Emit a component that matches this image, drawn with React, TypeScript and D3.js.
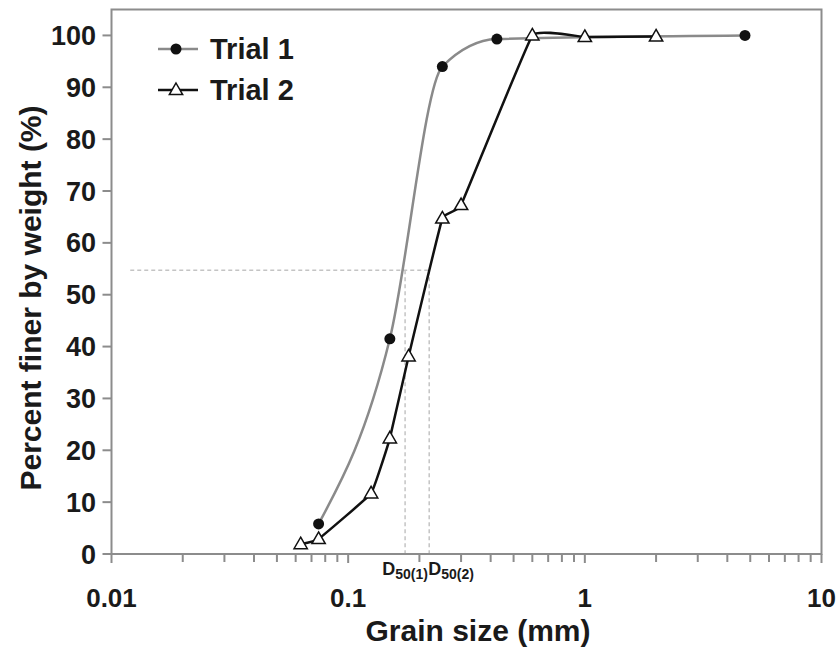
import React from "react";
import * as d3 from "d3";

// Grain size distribution, two sieve trials
const trial1Size = [0.075, 0.15, 0.25, 0.425, 4.75];
const trial1Finer = [5.8, 41.5, 94.0, 99.3, 100];

const trial2Size = [0.063, 0.075, 0.125, 0.15, 0.18, 0.25, 0.3, 0.6, 1.0, 2.0];
const trial2Finer = [1.9, 2.9, 11.7, 22.3, 38.1, 64.7, 67.3, 100, 99.7, 99.8];

const xTicks = [0.01, 0.1, 1, 10];
const xTickLabels = ["0.01", "0.1", "1", "10"];
const yTicks = [0, 10, 20, 30, 40, 50, 60, 70, 80, 90, 100];

// D50 guide lines
const d50Level = 54.7;
const d50Sizes = [0.174, 0.22];
const d50Labels = ["50(1)", "50(2)"];
const guideStart = 0.012;

const seriesNames = ["Trial 1", "Trial 2"];

const W = 840;
const H = 648;
const FONT = "'Liberation Sans', Arial, Helvetica, sans-serif";
const AXIS = "#8c8c8c";
const INK = "#1a1a1a";

export default function App() {
  const x = d3.scaleLog().domain([0.01, 10]).range([111.5, 821.5]);
  const y = d3.scaleLinear().domain([0, 105]).range([554, 9.5]);

  const t1 = trial1Size.map((s, i) => [x(s), y(trial1Finer[i])] as [number, number]);
  const t2 = trial2Size.map((s, i) => [x(s), y(trial2Finer[i])] as [number, number]);

  const line1 = d3.line().curve(d3.curveMonotoneX);
  const line2 = d3.line().curve(d3.curveCardinal.tension(0.75));

  const minor: number[] = [];
  for (let dec = 0.01; dec < 10; dec *= 10) {
    for (let k = 2; k <= 9; k++) minor.push(dec * k);
  }

  const tri = (cx: number, cy: number, s = 7) =>
    `M${cx},${cy - s} L${cx + s * 0.95},${cy + s * 0.65} L${cx - s * 0.95},${cy + s * 0.65} Z`;

  const [x0, x1] = x.range();
  const [yb, yt] = y.range();

  return (
    <svg
      width={W}
      height={H}
      style={{ position: "absolute", left: 0, top: 0, background: "#fff" }}
      fontFamily={FONT}
    >
      {/* D50 guide lines */}
      <g stroke="#c4c4c4" strokeWidth={1.5} strokeDasharray="4,3" fill="none">
        <line x1={x(guideStart)} x2={x(d50Sizes[1])} y1={y(d50Level)} y2={y(d50Level)} />
        {d50Sizes.map((s, i) => (
          <line key={i} x1={x(s)} x2={x(s)} y1={y(d50Level)} y2={yb} />
        ))}
      </g>

      {/* frame */}
      <rect x={x0} y={yt} width={x1 - x0} height={yb - yt} fill="none" stroke={AXIS} strokeWidth={2} />

      {/* ticks */}
      <g stroke={AXIS} strokeWidth={2}>
        {minor.map((v, i) => (
          <line key={i} x1={x(v)} x2={x(v)} y1={yb} y2={yb + 8} />
        ))}
        {xTicks.map((v, i) => (
          <line key={"M" + i} x1={x(v)} x2={x(v)} y1={yb} y2={yb + 9} />
        ))}
        {yTicks.map((v, i) => (
          <line key={"y" + i} x1={x0 - 9} x2={x0} y1={y(v)} y2={y(v)} />
        ))}
      </g>

      {/* tick labels */}
      <g fontWeight="bold" fill={INK}>
        {xTicks.map((v, i) => (
          <text key={i} x={x(v)} y={607} fontSize={26} textAnchor="middle">
            {xTickLabels[i]}
          </text>
        ))}
        {yTicks.map((v, i) => (
          <text key={"y" + i} x={96} y={y(v) + 9.5} fontSize={27} textAnchor="end">
            {v}
          </text>
        ))}
      </g>

      {/* D50 labels */}
      <g fontWeight="bold" fill={INK}>
        <text x={x(d50Sizes[0])} y={575} fontSize={18} textAnchor="middle">
          D<tspan fontSize={14} dy={4}>{d50Labels[0]}</tspan>
        </text>
        <text x={x(d50Sizes[1]) - 1} y={575} fontSize={18} textAnchor="start">
          D<tspan fontSize={14} dy={4}>{d50Labels[1]}</tspan>
        </text>
      </g>

      {/* axis titles */}
      <text x={478} y={641} textAnchor="middle" fontWeight="bold" fontSize={30} fill={INK}>
        Grain size (mm)
      </text>
      <text
        transform={`translate(41,298) rotate(-90)`}
        textAnchor="middle"
        fontWeight="bold"
        fontSize={30}
        fill={INK}
      >
        Percent finer by weight (%)
      </text>

      {/* Trial 1 */}
      <path d={line1(t1) || ""} fill="none" stroke="#8a8a8a" strokeWidth={2.5} />
      {/* Trial 2 */}
      <path d={line2(t2) || ""} fill="none" stroke="#111" strokeWidth={2.5} />

      {t1.map(([cx, cy], i) => (
        <circle key={i} cx={cx} cy={cy} r={5.5} fill="#111" />
      ))}
      {t2.map(([cx, cy], i) => (
        <path key={i} d={tri(cx, cy)} fill="#fff" stroke="#111" strokeWidth={1.5} />
      ))}

      {/* legend */}
      <g>
        <line x1={158} x2={198} y1={49} y2={49} stroke="#8a8a8a" strokeWidth={2.5} />
        <circle cx={176} cy={49} r={5.5} fill="#111" />
        <text x={210} y={59} fontWeight="bold" fontSize={29} fill={INK}>
          {seriesNames[0]}
        </text>
        <line x1={158} x2={198} y1={90} y2={90} stroke="#111" strokeWidth={2.5} />
        <path d={tri(176, 90)} fill="#fff" stroke="#111" strokeWidth={1.5} />
        <text x={210} y={100} fontWeight="bold" fontSize={29} fill={INK}>
          {seriesNames[1]}
        </text>
      </g>
    </svg>
  );
}
